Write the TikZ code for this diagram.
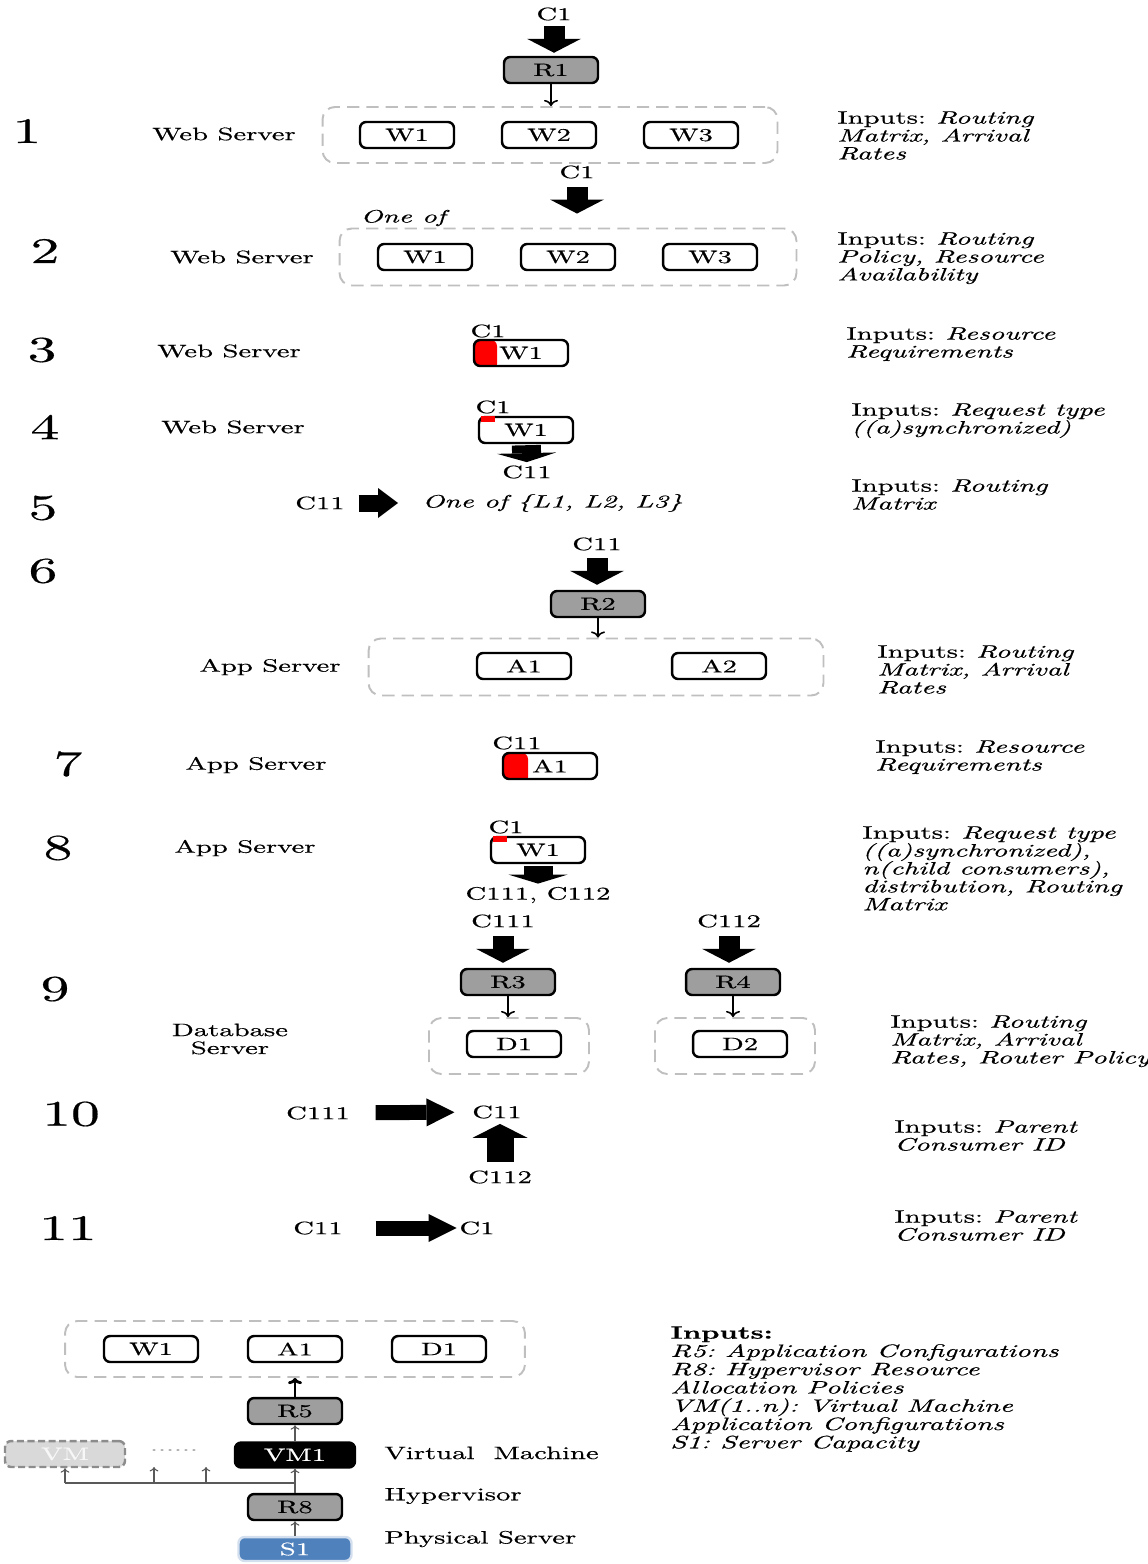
\documentclass[tikz,border=0pt]{standalone}
\usepackage{fontspec}
\setmainfont{lmroman10}[Extension=.otf, UprightFont=*-regular, ItalicFont=*-italic, BoldFont=*-bold, BoldItalicFont=*-bolditalic, FakeStretch=1.6, FakeBold=0.5]
\usetikzlibrary{arrows.meta}
\definecolor{steel}{HTML}{4F81BD}
\frenchspacing

\begin{document}
\begin{tikzpicture}[x=0.02cm,y=-0.02cm,font=\fontsize{10.2}{10.2}\selectfont,
  load/.style 2 args={path picture={\fill[red] (path picture bounding box.north west) rectangle ++(#1,#2);}}]
\tikzstyle{srv}=[draw,line width=1.4pt,rounded corners=3.5pt,minimum width=1.88cm,minimum height=0.52cm,inner sep=0pt,fill=white]
\tikzstyle{rtr}=[srv,fill=black!38]
\tikzstyle{grp}=[draw=black!25,line width=1.1pt,dash pattern=on 7pt off 4pt,rounded corners=7pt,inner sep=0pt]
\tikzstyle{cl}=[inner sep=0pt]
\tikzstyle{num}=[inner sep=0pt,font=\fontsize{20.5}{22}\selectfont]
\tikzstyle{inp}=[inner sep=0pt,anchor=north west,align=left,font=\fontsize{10.2}{10.2}\selectfont\itshape]
\tikzstyle{bigdown}=[line width=0.42cm,-{Triangle[width=1.08cm,length=0.28cm,line width=0pt]}]
\tikzstyle{bigup}=[line width=0.54cm,-{Triangle[width=1.1cm,length=0.28cm,line width=0pt]}]
\tikzstyle{fatdown}=[line width=0.58cm,-{Triangle[width=1.18cm,length=0.18cm,line width=0pt]}]
\tikzstyle{sidearrow}=[line width=0.34cm,-{Triangle[width=0.6cm,length=0.4cm,line width=0pt]}]
\tikzstyle{longarrow}=[line width=0.3cm,-{Triangle[width=0.56cm,length=0.56cm,line width=0pt]}]
\tikzstyle{thinarrow}=[line width=0.9pt,-{To[length=3.5pt,width=8pt]}]
\tikzstyle{wire}=[draw=black!65,line width=0.6pt]

\useasboundingbox (0,0) rectangle (1147,1564);

% step 1
\node[num] (n1) at (27,131) {1};
\node[cl] (ws1) at (224,134) {Web Server};
\node[cl] (c1a) at (554,14) {C1};
\node[rtr] (r1) at (551,70) {R1};
\node[grp,minimum width=9.1cm,minimum height=1.12cm] (g1) at (550,135) {};
\node[srv] (w1a) at (407,135) {W1};
\node[srv] (w2a) at (549,135) {W2};
\node[srv] (w3a) at (691,135) {W3};
\draw[bigdown,shorten <=0.1cm,shorten >=0.06cm] (c1a) -- (c1a |- r1.north);
\draw[thinarrow] (r1.south) -- (r1.south |- g1.north);
\node[inp] (in1) at (837,111) {\textup{Inputs:} Routing\\Matrix, Arrival\\Rates};

% step 2
\node[num] (n2) at (45,251) {2};
\node[cl] (ws2) at (242,257) {Web Server};
\node[cl] (c1b) at (577,172) {C1};
\node[cl] (oneof) at (403,218) {\itshape One of};
\node[grp,minimum width=9.14cm,minimum height=1.14cm] (g2) at (568,257) {};
\node[srv] (w1b) at (425,257) {W1};
\node[srv] (w2b) at (568,257) {W2};
\node[srv] (w3b) at (710,257) {W3};
\draw[bigdown,shorten <=0.16cm,shorten >=0.28cm] (c1b) -- (c1b |- g2.north);
\node[inp] (in2) at (837,232) {\textup{Inputs:} Routing\\Policy, Resource\\Availability};

% step 3
\node[num] (n3) at (42,350) {3};
\node[cl] (ws3) at (229,351) {Web Server};
\node[cl] (c1c) at (488,331) {C1};
\node[srv,load={23}{30}] (w1c) at (521,353) {W1};
\node[inp] (in3) at (846,327) {\textup{Inputs:} Resource\\Requirements};

% step 4
\node[num] (n4) at (45,427) {4};
\node[cl] (ws4) at (233,427) {Web Server};
\node[cl] (c1d) at (493,407) {C1};
\node[srv] (w1d) at (526,430) {W1};
\fill[red] ([xshift=0.06cm]w1d.north west) rectangle ++(14,6);
\node[cl] (c11a) at (527,472) {C11};
\draw[fatdown,shorten <=0.02cm,shorten >=0.06cm] (w1d) -- (c11a);
\node[inp] (in4) at (851,403) {\textup{Inputs:} Request type\\((a)synchronized)};

% step 5
\node[num] (n5) at (43,508) {5};
\node[cl] (c11b) at (320,503) {C11};
\node[cl,anchor=west] (lset) at (422,503) {\itshape One of \{L1, L2, L3\}};
\draw[sidearrow,shorten <=0.27cm,shorten >=0.48cm] (c11b) -- (lset);
\node[inp] (in5) at (851,479) {\textup{Inputs:} Routing\\Matrix};

% step 6
\node[num] (n6) at (43,571) {6};
\node[cl] (c11c) at (597,544) {C11};
\node[rtr] (r2) at (598,604) {R2};
\node[grp,minimum width=9.1cm,minimum height=1.14cm] (g3) at (596,667) {};
\node[srv] (a1a) at (524,666) {A1};
\node[srv] (a2a) at (719,666) {A2};
\node[cl] (as6) at (270,667) {App Server};
\draw[bigdown,shorten <=0.14cm,shorten >=0.1cm] (c11c) -- (c11c |- r2.north);
\draw[thinarrow] (r2.south) -- (r2.south |- g3.north);
\node[inp] (in6) at (877,645) {\textup{Inputs:} Routing\\Matrix, Arrival\\Rates};

% step 7
\node[num] (n7) at (68,764) {7};
\node[cl] (as7) at (256,765) {App Server};
\node[cl] (c11d) at (517,743) {C11};
\node[srv,load={25}{30}] (a1b) at (550,766) {A1};
\node[inp] (in7) at (875,740) {\textup{Inputs:} Resource\\Requirements};

% step 8
\node[num] (n8) at (58,848) {8};
\node[cl] (as8) at (245,848) {App Server};
\node[cl] (c1e) at (506,827) {C1};
\node[srv] (w1e) at (538,850) {W1};
\fill[red] ([xshift=0.06cm]w1e.north west) rectangle ++(14,6);
\node[cl] (kids) at (538,895) {C111, C112};
\draw[fatdown,shorten <=0.04cm,shorten >=0.06cm] (w1e) -- (w1e |- kids.north);
\node[inp] (in8) at (862,826) {\textup{Inputs:} Request type\\((a)synchronized),\\n(child consumers),\\distribution, Routing\\Matrix};

% step 9
\node[num] (n9) at (55,989) {9};
\node[cl,align=center] (db9) at (230,1039) {Database\\Server};
\node[cl] (c111a) at (503,921) {C111};
\node[rtr] (r3) at (508,982) {R3};
\node[grp,minimum width=3.2cm,minimum height=1.12cm] (g4) at (509,1046) {};
\node[srv] (d1a) at (514,1044) {D1};
\node[cl] (c112a) at (729,921) {C112};
\node[rtr] (r4) at (733,982) {R4};
\node[grp,minimum width=3.2cm,minimum height=1.12cm] (g5) at (735,1046) {};
\node[srv] (d2a) at (740,1044) {D2};
\draw[bigdown,shorten <=0.16cm,shorten >=0.1cm] (c111a) -- (c111a |- r3.north);
\draw[bigdown,shorten <=0.16cm,shorten >=0.1cm] (c112a) -- (c112a |- r4.north);
\draw[thinarrow] (r3.south) -- (r3.south |- g4.north);
\draw[thinarrow] (r4.south) -- (r4.south |- g5.north);
\node[inp] (in9) at (890,1015) {\textup{Inputs:} Routing\\Matrix, Arrival\\Rates, Router Policy};

% step 10
\node[num] (n10) at (71,1114) {10};
\node[cl] (c111b) at (318,1113) {C111};
\node[cl] (c11e) at (497,1112) {C11};
\node[cl] (c112b) at (500,1177) {C112};
\draw[longarrow,shorten <=0.51cm,shorten >=0.35cm] (c111b) -- (c11e);
\draw[bigup,shorten <=0.16cm,shorten >=0.1cm] (c112b) -- (c112b |- c11e.south);
\node[inp] (in10) at (894,1120) {\textup{Inputs:} Parent\\Consumer ID};

% step 11
\node[num] (n11) at (68,1228) {11};
\node[cl] (c11f) at (318,1228) {C11};
\node[cl] (c1f) at (477,1228) {C1};
\draw[longarrow,shorten <=0.65cm,shorten >=0.05cm] (c11f) -- (c1f);
\node[inp] (in11) at (894,1210) {\textup{Inputs:} Parent\\Consumer ID};

% deployment stack
\node[grp,minimum width=9.2cm,minimum height=1.12cm] (g6) at (295,1349) {};
\node[srv] (w1g) at (151,1349) {W1};
\node[srv] (a1g) at (295,1349) {A1};
\node[srv] (d1g) at (439,1349) {D1};
\node[rtr] (r5) at (295,1411) {R5};
\node[srv,fill=black,text=white,minimum width=2.4cm,minimum height=0.5cm] (vm1) at (295,1455) {VM1};
\node[srv,draw=black!45,fill=black!15,text=black!3,dash pattern=on 4pt off 2pt,minimum width=2.4cm,minimum height=0.52cm] (vm) at (65,1454) {VM};
\node[cl,text=black!35] (dots) at (174,1450) {......};
\node[rtr] (r8) at (295,1507) {R8};
\node[srv,draw=steel!25,fill=steel,text=white,minimum width=2.26cm,minimum height=0.48cm] (s1) at (295,1549) {S1};
\node[cl,anchor=west] (lvm) at (384,1453) {Virtual~ Machine};
\node[cl,anchor=west] (lhv) at (384,1496) {Hypervisor};
\node[cl,anchor=west] (lps) at (384,1539) {Physical Server};

\coordinate (hub) at (295,1483);
\coordinate (hubl) at (65,1483);
\coordinate (t1) at (154,1483);
\coordinate (t2) at (206,1483);
\coordinate (t1h) at (154,1467);
\coordinate (t2h) at (206,1467);

\draw[line width=1.6pt,-{To[length=3.5pt,width=8pt]}] (r5) -- (g6);
\draw[wire,-{To[length=2.5pt,width=5pt]}] (vm1) -- (r5);
\draw[wire,-{To[length=2.5pt,width=5pt]}] (r8) -- (vm1);
\draw[wire,-{To[length=2.5pt,width=5pt]}] (s1) -- (r8);
\draw[wire] (hub) -- (hubl);
\draw[wire,-{To[length=2.5pt,width=5pt]}] (hubl) -- (vm);
\draw[wire,-{To[length=2.5pt,width=5pt]}] (t1) -- (t1h);
\draw[wire,-{To[length=2.5pt,width=5pt]}] (t2) -- (t2h);

\node[inp,font=\fontsize{10.2}{10.4}\selectfont\itshape] (in12) at (670,1326) {\textbf{\textup{Inputs:}}\\R5: Application Configurations\\R8: Hypervisor Resource\\Allocation Policies\\VM(1..n): Virtual Machine\\Application Configurations\\S1: Server Capacity};

\end{tikzpicture}
\end{document}
